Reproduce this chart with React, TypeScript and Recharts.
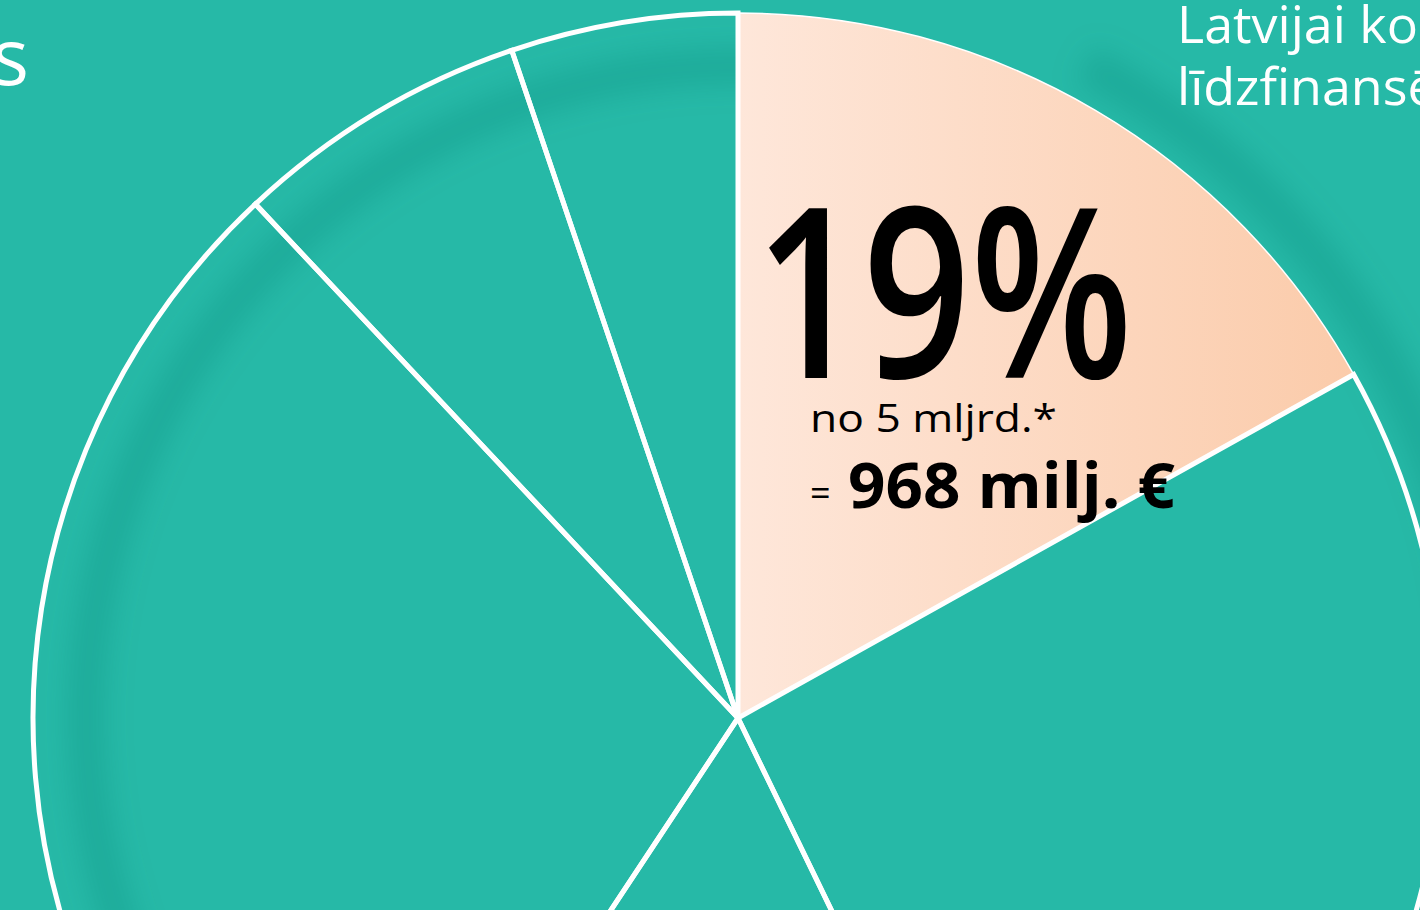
import React from 'react';
import { PieChart, Pie, Cell } from 'recharts';

// Slice shares (clockwise from 12 o'clock)
const sliceNames = ['Latvija', 'Daļa 2', 'Daļa 3', 'Daļa 4', 'Daļa 5', 'Daļa 6'];
const sliceValues = [16.9, 25.9, 16.5, 28.7, 6.8, 5.2];
const highlightIndex = 0;

const bigLabel = '19%';
const subLabel = 'no 5 mljrd.*';
const eqLabel = '=';
const amountLabel = '968 milj. €';
const titleTail = 's';
const sideLine1 = 'Latvijai ko';
const sideLine2 = 'līdzfinansē';

const data = sliceNames.map((name, i) => ({ name, value: sliceValues[i] }));

const W = 1420;
const H = 910;
const CX = 738;
const CY = 718;
const R = 705;
const TEAL = '#26B9A7';
const FONT = '"Open Sans", "Noto Sans", sans-serif';

function arcPath(r: number, a0: number, a1: number) {
  const rad = (d: number) => (d * Math.PI) / 180;
  const x0 = CX + r * Math.sin(rad(a0));
  const y0 = CY - r * Math.cos(rad(a0));
  const x1 = CX + r * Math.sin(rad(a1));
  const y1 = CY - r * Math.cos(rad(a1));
  const large = a1 - a0 > 180 ? 1 : 0;
  return `M ${x0} ${y0} A ${r} ${r} 0 ${large} 1 ${x1} ${y1}`;
}

export default function App() {
  return (
    <div
      style={{
        position: 'fixed',
        left: 0,
        top: 0,
        width: W,
        height: H,
        overflow: 'hidden',
        background: TEAL,
      }}
    >
      <svg width={W} height={H} style={{ position: 'absolute', left: 0, top: 0 }}>
        <defs>
          <filter id="blurRing" x="-20%" y="-20%" width="140%" height="140%">
            <feGaussianBlur stdDeviation="14" />
          </filter>
        </defs>
        <path
          d={arcPath(652, 232, 372)}
          fill="none"
          stroke="#0f7e70"
          strokeWidth={36}
          strokeOpacity={0.24}
          filter="url(#blurRing)"
        />
        <path
          d={arcPath(740, 28, 84)}
          fill="none"
          stroke="#0f7e70"
          strokeWidth={40}
          strokeOpacity={0.24}
          filter="url(#blurRing)"
        />
      </svg>
      <div style={{ position: 'absolute', left: 0, top: 0 }}>
        <PieChart width={W} height={H} margin={{ top: 0, right: 0, bottom: 0, left: 0 }}>
          <defs>
            <linearGradient id="peachGrad" x1="0" y1="0" x2="1" y2="0">
              <stop offset="0%" stopColor="#FEE7DA" />
              <stop offset="100%" stopColor="#FBCBAA" />
            </linearGradient>
          </defs>
          <Pie
            data={data}
            dataKey="value"
            nameKey="name"
            cx={CX}
            cy={CY}
            innerRadius={0}
            outerRadius={R}
            startAngle={90}
            endAngle={-270}
            isAnimationActive={false}
            labelLine={false}
          >
            {data.map((d, i) => (
              <Cell
                key={d.name}
                fill={i === highlightIndex ? 'url(#peachGrad)' : 'transparent'}
                stroke="#ffffff"
                strokeWidth={i === highlightIndex ? 1.5 : 5}
              />
            ))}
          </Pie>
        </PieChart>
      </div>
      <svg width={W} height={H} style={{ position: 'absolute', left: 0, top: 0, pointerEvents: 'none' }}>
        <text x={755} y={378} fontFamily={FONT} fontSize={238} fontWeight={600} fill="#000" textLength={378} lengthAdjust="spacingAndGlyphs">
          {bigLabel}
        </text>
        <text x={810} y={432} fontFamily={FONT} fontSize={38} fill="#000" textLength={247} lengthAdjust="spacingAndGlyphs">
          {subLabel}
        </text>
        <text x={810} y={506} fontFamily={FONT} fontSize={36} fill="#000">
          {eqLabel}
        </text>
        <text x={848} y={508} fontFamily={FONT} fontSize={63} fontWeight={700} fill="#000" textLength={327} lengthAdjust="spacingAndGlyphs">
          {amountLabel}
        </text>
        <text x={29} y={85} fontFamily={FONT} fontSize={78} fill="#ffffff" textAnchor="end">
          {titleTail}
        </text>
        <text x={1177} y={43} fontFamily={FONT} fontSize={52} fill="#ffffff">
          {sideLine1}
        </text>
        <text x={1177} y={105} fontFamily={FONT} fontSize={52} fill="#ffffff">
          {sideLine2}
        </text>
      </svg>
    </div>
  );
}
